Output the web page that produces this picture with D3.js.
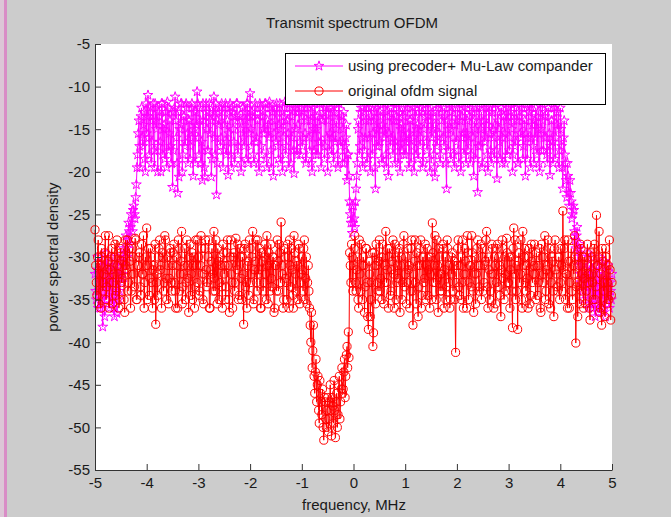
<!DOCTYPE html>
<html>
<head>
<meta charset="utf-8">
<script src="https://cdn.jsdelivr.net/npm/d3@7"></script>
<style>
  body { margin: 0; background: #cccccc; }
  svg { display: block; }
  text { font-family: "Liberation Sans", Arial, Helvetica, sans-serif; fill: #1a1a1a; }
</style>
</head>
<body>
<svg id="chart" width="671" height="517"></svg>
<script>
// both series are sampled on an even frequency grid from -5 to 5 MHz.
// each series is read off in two passes: the "A" bins and the bins half-way between them.
var fMin = -5, fMax = 5;

// using precoder + Mu-Law compander (dB)
var precodedA = [
  -32,-35,-30,-34,-36,-31,-38.2,-33,-29.5,-35,-31,-36,-33,-30,-34.5,-37,-31,-36.6,-32,-34,
  -30.5,-33,-29,-31,-27.5,-30,-26,-28.5,-25,-27,-24,-25.5,-21.5,-18,-14,-19.5,-12.5,-17,-13,-20,
  -15.5,-11,-18,-13,-16.5,-12,-19.5,-14,-12.5,-17,-13.5,-20,-12,-15,-18.5,-13,-11.8,-17.5,-14,-19,
  -21.8,-13,-11.2,-16,-22.5,-20.6,-14.5,-12,-18,-13.5,-16.5,-12.5,-19,-14,-17,-12,-20.5,-15,-13,-10.6,
  -16,-12.5,-19,-21,-14,-20.6,-12,-17.5,-13,-15.5,-20.6,-12.5,-11.2,-18,-22.7,-14,-13,-17,-12,-19.5,
  -14.5,-12,-16.5,-20.4,-13,-18,-12.5,-15,-19,-13.5,-12,-17,-14,-20,-12.5,-16,-13,-18.5,-12,-15.5,
  -10.8,-17,-13.5,-19,-12,-16,-14,-20,-12.5,-18,-13,-15.5,-12,-19.5,-14.5,-11.8,-17.5,-13,-20.5,-12.5,
  -16.5,-13,-18.5,-12,-15,-20,-13.5,-11.8,-17,-14,-19.5,-12.5,-16,-13,-20.2,-12,-17.5,-14.5,-12,-18,
  -13.5,-16,-12,-19,-14,-12.5,-17.5,-13,-20,-15,-12,-18,-13.5,-16.5,-12,-19.5,-14,-11.5,-17,-13,
  -20,-12.5,-15.5,-18,-13,-11.8,-16.5,-14,-19.5,-12,-17,-13.5,-15,-19,-16,-21,-18,-23.5,-26,-27.2,
  -24,-26.5,-22,-19,-14,-17,-12.5,-19.5,-13,-16,-12,-18.5,-14,-20,-12.5,-15.5,-13,-22,-17,-12,
  -16.5,-13.5,-19,-12,-15,-18,-13,-20.5,-12.5,-16,-14,-11.8,-19,-13.5,-17,-12,-20,-14.5,-12.5,-18,
  -13,-16.5,-12,-19.5,-14,-17,-12.5,-20,-13.5,-15,-18.5,-12,-16,-13,-19,-14.5,-12,-17.5,-13.5,-20,
  -12.5,-15,-18,-20.6,-13,-16.5,-12,-19,-14,-12.5,-17,-13.5,-22,-15,-12,-18.5,-13,-16,-19.5,-12.5,
  -14,-17.5,-12,-20,-13.5,-15.5,-12.5,-19,-14,-16.5,-12,-18,-13,-20.5,-15,-12.5,-22.4,-14,-17,-13,
  -19,-12,-16,-14.5,-20,-12.5,-17.5,-13,-15,-18.5,-12,-20.8,-14,-16.5,-12.5,-19,-13.5,-15.5,-12,-18,
  -13.5,-16,-12,-20,-14,-17,-12.5,-19,-13,-15.5,-12,-18.5,-14.5,-20.5,-12.5,-16,-13,-19.5,-12,-17,
  -14,-12.5,-18,-13,-20,-15,-12,-17.5,-13.5,-16,-19,-12.5,-20.4,-14,-16.5,-12,-18.5,-13,-15,-19.5,
  -12.5,-17,-22,-14,-19,-23,-20.5,-24,-22.5,-25.5,-24,-27,-29,-26.5,-31,-28.5,-33,-30,-35,-31.5,
  -34,-29.5,-36,-32,-30,-35.5,-33,-37,-31,-34.5,-30,-36,-32.5,-35,-30.5,-37,-33,-31,-36,-34,-32
];
var precodedB = [
  -34,-31.5,-36,-32,-33,-35,-30.5,-37,-31,-34,-33,-32,-35.5,-31,-36,-33,-34,-30,-35,-32.5,
  -31.5,-32,-30,-29.5,-29,-28,-27,-26.5,-26,-24.5,-25,-23,-19.5,-15.5,-17,-13.5,-16,-14.5,-18.5,-12,
  -13.5,-16,-12.5,-19,-14,-17.5,-12,-15,-20,-13,-16.5,-12,-18,-14.5,-13,-19.5,-12.5,-15.5,-17,-13,
  -17.5,-12.5,-14,-19,-13,-15,-12,-20,-13.5,-17,-12,-15.5,-14,-18.5,-12.5,-16,-13,-19,-14.5,-12,
  -18,-14,-16.5,-12,-19.5,-13,-15,-17.5,-12,-14,-18.5,-13.5,-16,-12,-19,-14.5,-12.5,-16,-13,-17.5,
  -12.5,-18,-14,-15.5,-12,-19.5,-13,-16.5,-14,-12,-18,-13.5,-15,-19,-12.5,-17,-14,-12,-19,-13.5,
  -15,-13,-18,-12.5,-16.5,-14,-19,-12,-17,-13.5,-15,-12,-18.5,-14,-16,-12.5,-19.5,-13,-15.5,-14,
  -12,-17,-14.5,-19,-13,-16,-12.5,-18,-14,-15.5,-12,-19,-13.5,-17.5,-12.5,-15,-18,-13,-16.5,-12.5,
  -17,-13,-15.5,-18.5,-12,-16,-14,-19,-12.5,-17.5,-13.5,-15,-18,-12,-16.5,-14,-13,-18.5,-12.5,-16,
  -14,-17.5,-12.5,-16,-19,-13,-15,-18,-12,-16.5,-14,-19,-13,-17,-14.5,-18,-20.5,-25,-24,-26,
  -25.5,-23.5,-20.5,-15,-18,-13,-16,-12.5,-17.5,-14,-19,-12.5,-16,-13.5,-18,-14,-19.5,-12.5,-15,-17,
  -13,-18.5,-14.5,-16,-12,-19.5,-13.5,-15.5,-17,-12.5,-18,-14,-16.5,-12,-19,-13,-15,-17.5,-13.5,-16,
  -18,-12.5,-15.5,-14,-19,-13,-16,-12,-18,-14.5,-13,-17,-12.5,-19.5,-15,-13.5,-16.5,-12,-18.5,-14,
  -16,-13,-19.5,-14.5,-17,-12,-15.5,-18,-13,-16,-12.5,-19,-14,-17.5,-13,-15,-12,-18,-14.5,-16.5,
  -12.5,-19,-14,-16,-13,-18,-12,-15.5,-17.5,-13.5,-19,-12.5,-16,-14,-18.5,-13,-17,-12,-15,-19.5,
  -14,-16.5,-12.5,-18,-13,-15.5,-19,-12,-16,-14.5,-17.5,-13,-15,-18.5,-12.5,-16,-13.5,-19,-14,-12.5,
  -17.5,-13,-15,-18,-12,-16.5,-14,-19,-13.5,-16,-12.5,-17,-14,-15.5,-18.5,-13,-12,-16,-14.5,-19,
  -16,-13.5,-15,-19,-12,-17.5,-14,-16,-13,-18,-12.5,-15.5,-17,-14,-19,-12.5,-16,-14.5,-13,-17.5,
  -15,-19.5,-16,-18,-21,-19,-22.5,-21,-23.5,-25,-24.5,-28,-27.5,-30,-29,-32,-31,-34,-32.5,-33,
  -32,-35,-31,-33.5,-36,-31.5,-34,-35.5,-32,-36.5,-33,-34,-31,-36,-33.5,-32,-35,-34.5,-33,-35
];

// original ofdm signal (dB)
var originalA = [
  -26.8,-33,-30,-35.5,-31,-29,-34,-32,-27.5,-33.5,-30.5,-36,-31.5,-29,-33,-30,-34.5,-28,-32,-35,
  -29.5,-32.5,-30,-36.5,-31,-28,-33,-30.5,-34,-29,-32,-27.8,-35,-31,-30,-33.5,-28.5,-32,-36,-30,
  -26.6,-31,-34.5,-29,-33,-31.5,-35,-37.9,-32,-30,-28,-31,-29.5,-34,-27.5,-32.5,-30,-35.5,-29,-33,
  -31,-28.5,-34,-30,-36,-29,-32,-27,-33.5,-31,-35,-28,-32.5,-30,-34.5,-29.5,-31,-36,-28,-33,
  -30,-34,-27.5,-32,-35.5,-29,-31.5,-33,-28,-36,-30.5,-32,-27,-34,-31,-29,-35,-30,-33.5,-28.5,
  -32,-35,-29.5,-31,-36.5,-28,-33,-30,-34,-27.8,-31.5,-35,-29,-32.5,-30,-37.9,-28.5,-33,-31,-34.5,
  -29,-32,-27,-35,-30.5,-33,-28,-31.5,-36,-29.5,-34,-30,-32,-27.5,-35.5,-31,-28.5,-33.5,-30,-36,
  -31,-28,-34,-29.5,-25.9,-32,-35,-30,-33,-28.5,-36,-31,-29,-34.5,-27.5,-32,-30.5,-35,-29,-33,
  -30,-34,-28,-32.5,-35.5,-31,-36,-40,-43,-38,-46,-42,-45,-48,-44.5,-47,-45.5,-51.5,-47,-50,
  -46.5,-49,-45,-51,-47.5,-44.5,-51.2,-46,-48.5,-44,-47,-43,-45.5,-42,-44,-40.5,-38.8,-29.5,-33,-30,
  -31,-27.5,-34,-30,-36,-32,-28.5,-35,-31,-33.5,-29,-37,-30.5,-37,-33,-40.5,-29.5,-35.5,-31,-34,
  -28,-32.5,-35,-30,-33,-27,-31.5,-36,-29,-34,-30.5,-32,-28.5,-35,-31,-29.5,-36.5,-30,-33,-27.5,
  -32,-35.5,-29,-31,-34,-28,-38,-30.5,-33,-29.5,-37,-31,-28,-34.5,-30,-32.5,-35,-29,-31.5,-36,
  -30,-26,-33,-27.5,-35,-31,-29,-34,-32,-28.5,-36,-30,-33.5,-29,-31,-35,-32,-34,-30.5,-41.2,
  -31,-28,-34.5,-30,-33,-36,-29,-32,-27.5,-35,-31,-33.5,-29.5,-36.5,-30,-32,-28,-34,-31,-35,
  -29,-33,-30.5,-27,-36,-31.5,-34,-28.5,-32,-30,-35.5,-29,-33.5,-31,-37,-28,-32.5,-30,-34,-29.5,
  -33,-36,-30,-38.3,-26.6,-28,-34,-38.5,-29.5,-32,-35,-27,-30,-33,-31,-36,-29,-34.5,-30.5,-32,
  -28.5,-35,-31,-33,-29,-36.5,-30,-32,-27.5,-34,-31,-35.5,-29,-33,-30.5,-37,-28,-32,-34,-30,
  -33,-31,-24.6,-29,-35,-32,-28,-36,-30.5,-34,-31,-27.5,-40.1,-33,-30,-35.5,-29,-32,-36,-30,
  -34,-28.5,-32,-37.4,-30,-33,-29,-35,-25.1,-31,-27,-36,-38,-30.5,-33,-29,-35.5,-31,-28,-37.4,-33
];
var originalB = [
  -31,-34.5,-28,-32,-36,-30,-33,-29.5,-35,-31.5,-27.5,-33,-30,-35.5,-32,-28.5,-34,-31,-36,-29,
  -33,-30.5,-35,-28,-31.5,-34,-29,-36,-32,-30,-33.5,-28,-35,-31,-29.5,-34.5,-32,-27.5,-33,-31,
  -35,-29,-32.5,-30,-36,-31,-28.5,-33,-34.5,-29,-31.5,-36,-30,-33,-28,-35,-31,-32.5,-29.5,-34,
  -29.5,-33,-36,-31,-28,-34,-30.5,-35.5,-32,-29,-33,-31,-36.5,-28.5,-32,-35,-30,-33.5,-31,-28,
  -34.5,-31,-29,-35,-32,-28,-33.5,-30,-36,-31.5,-29,-34,-32.5,-28,-35.5,-30.5,-33,-31,-36,-29.5,
  -31,-33.5,-28,-35,-30,-32,-36,-29.5,-33,-31,-28.5,-34.5,-30,-35,-32,-29,-33.5,-36,-30.5,-28,
  -33,-30,-35.5,-31.5,-28,-34,-32,-29,-36,-30.5,-33,-28.5,-35,-31,-29.5,-34,-32.5,-30,-36.5,-31,
  -34,-30.5,-28.5,-33,-31,-36,-29,-32.5,-35,-30,-28,-33.5,-31.5,-36,-29.5,-34,-31,-28.5,-35.5,-32,
  -31.5,-29,-35,-30,-33,-34,-38,-36.5,-41,-44,-43.5,-47,-44,-49.5,-46,-48.5,-50,-46.5,-49,-48,
  -50.5,-47,-48,-46.5,-49.5,-48,-47,-50,-45,-49,-45.5,-46,-43.5,-46.5,-41.5,-43,-41.8,-31,-28.5,-34,
  -29,-33,-31.5,-35,-28,-34,-31,-30,-36.5,-29,-33,-38.5,-32,-35,-29.5,-38.9,-31,-28.5,-33,-30.5,
  -34,-30,-28.5,-35.5,-31,-33,-29,-30,-34.5,-31.5,-28,-36,-30,-33,-32.5,-29,-31,-35,-28.5,-33.5,
  -30,-33,-31.5,-36,-29,-34,-32,-28,-35.5,-31,-33.5,-29,-36,-30,-33,-28.5,-31,-34.5,-30,-32,
  -35,-29.5,-31,-33,-28,-36.5,-30,-32,-34,-29,-31.5,-35,-28,-33,-36,-30,-29.5,-31,-35,-33,
  -29,-33.5,-31,-35,-28,-32,-30.5,-36,-29.5,-33,-31,-27.5,-34,-32,-35.5,-29,-31,-33.5,-28.5,-30,
  -34,-31,-28,-33.5,-30,-35,-32,-29,-36,-31,-33,-28.5,-30,-34.5,-31.5,-29,-35,-32,-27.8,-33,
  -30,-31.5,-34,-29,-32,-35,-31,-30.5,-33,-28,-36,-31,-29,-34,-32.5,-30,-35.5,-28.5,-33,-31,
  -32,-29.5,-34.5,-31,-36,-28.5,-33,-30,-35,-31.5,-28,-32,-36,-30,-34,-29,-31.5,-33.5,-30,-35,
  -29,-34,-31.5,-28,-32,-36,-30.5,-33,-29,-35,-32,-30,-33.5,-37,-31,-28.5,-34,-30,-32.5,-35.5,
  -31,-33,-36,-29.5,-32,-35,-28.5,-33.5,-31,-30,-36.5,-32,-29,-34,-37,-30,-33,-35,-31.5,-34.5
];

var xTicks = [-5,-4,-3,-2,-1,0,1,2,3,4,5];
var yTicks = [-55,-50,-45,-40,-35,-30,-25,-20,-15,-10,-5];

// put the two read-off passes back in frequency order
function merge(a, b) {
  var out = [];
  a.forEach(function(v, i) {
    out.push(v);
    if (i < b.length) out.push(b[i]);
  });
  return out;
}
var precoded = merge(precodedA, precodedB);
var original = merge(originalA, originalB);

var svg = d3.select("#chart");

// left window strip
svg.append("rect").attr("x", 0).attr("y", 0).attr("width", 4).attr("height", 517).attr("fill", "#dcc6d6");
svg.append("rect").attr("x", 4).attr("y", 0).attr("width", 3).attr("height", 517).attr("fill", "#d98cc6");

var x = d3.scaleLinear().domain([-5, 5]).range([95, 612]);
var y = d3.scaleLinear().domain([-55, -5]).range([470, 44]);

svg.append("rect")
  .attr("x", x(-5)).attr("y", y(-5))
  .attr("width", x(5) - x(-5)).attr("height", y(-55) - y(-5))
  .attr("fill", "#fff");

var plotArea = svg.append("g");

function drawSeries(vals, color, marker) {
  var idx = d3.scaleLinear().domain([0, vals.length - 1]).range([fMin, fMax]);
  var line = d3.line().x(function(d, i) { return x(idx(i)); }).y(function(d) { return y(d); });
  plotArea.append("path").datum(vals)
    .attr("d", line).attr("fill", "none").attr("stroke", color).attr("stroke-width", 1);
  plotArea.append("g").selectAll("path").data(vals).enter().append("path")
    .attr("transform", function(d, i) { return "translate(" + x(idx(i)) + "," + y(d) + ")"; })
    .attr("d", marker)
    .attr("fill", "none").attr("stroke", color).attr("stroke-width", 1);
}

var star = d3.symbol().type(d3.symbolStar).size(30)();
var circle = d3.symbol().type(d3.symbolCircle).size(52)();

drawSeries(precoded, "#ff00ff", star);
drawSeries(original, "#ff0000", circle);

// axes
var xAxis = d3.axisBottom(x).tickValues(xTicks).tickSizeInner(-6).tickSizeOuter(0).tickPadding(7)
  .tickFormat(function(d) { return String(d); });
var yAxis = d3.axisLeft(y).tickValues(yTicks).tickSizeInner(-6).tickSizeOuter(0).tickPadding(5)
  .tickFormat(function(d) { return String(d); });

var gx = svg.append("g").attr("transform", "translate(0," + y(-55) + ")").call(xAxis);
var gy = svg.append("g").attr("transform", "translate(" + x(-5) + ",0)").call(yAxis);
[gx, gy].forEach(function(g) {
  g.selectAll("text").style("font-size", "15px").attr("fill", "#1a1a1a");
  g.selectAll("line, path").attr("stroke", "#333");
});

// titles
svg.append("text").attr("x", 352).attr("y", 28).attr("text-anchor", "middle")
  .style("font-size", "15px").text("Transmit spectrum OFDM");
svg.append("text").attr("x", 354).attr("y", 510).attr("text-anchor", "middle")
  .style("font-size", "15px").text("frequency, MHz");
svg.append("text").attr("transform", "translate(58,257) rotate(-90)").attr("text-anchor", "middle")
  .style("font-size", "15px").text("power spectral density");

// legend
var lg = svg.append("g");
lg.append("rect").attr("x", 285.5).attr("y", 53.5).attr("width", 320).attr("height", 51)
  .attr("fill", "#fff").attr("stroke", "#000").attr("stroke-width", 1);
var legendItems = [
  { label: "using precoder+ Mu-Law compander", color: "#ff00ff", marker: star },
  { label: "original ofdm signal", color: "#ff0000", marker: circle }
];
legendItems.forEach(function(it, k) {
  var ly = 66 + k * 25;
  lg.append("line").attr("x1", 295).attr("x2", 343).attr("y1", ly).attr("y2", ly)
    .attr("stroke", it.color).attr("stroke-width", 1);
  lg.append("path").attr("d", it.marker).attr("transform", "translate(319," + ly + ")")
    .attr("fill", "none").attr("stroke", it.color);
  lg.append("text").attr("x", 348).attr("y", ly + 5).style("font-size", "15px").text(it.label);
});
</script>
</body>
</html>
